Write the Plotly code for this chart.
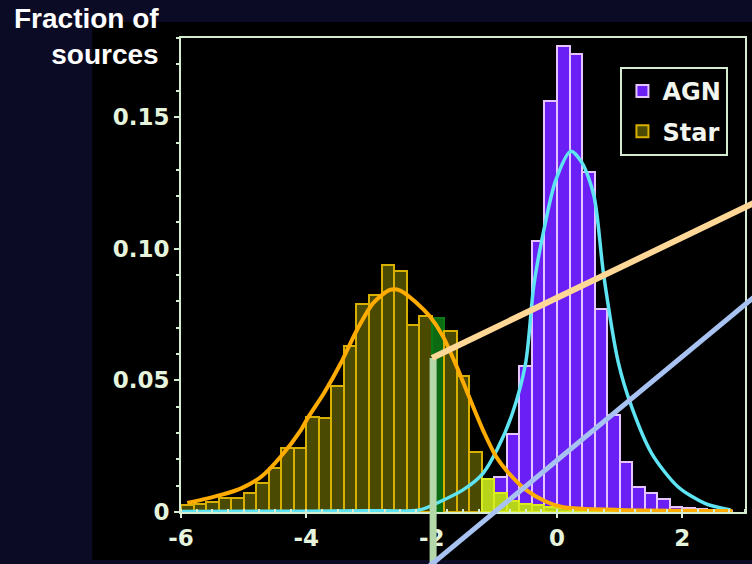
import plotly.graph_objects as go

# ---------------- data ----------------
star_centers = [-5.9, -5.7, -5.5, -5.3, -5.1, -4.9, -4.7, -4.5, -4.3, -4.1,
                -3.9, -3.7, -3.5, -3.3, -3.1, -2.9, -2.7, -2.5, -2.3, -2.1,
                -1.9, -1.7, -1.5, -1.3, -1.1, -0.9, -0.7, -0.5, -0.3, -0.1,
                0.1, 0.3, 0.5, 0.7, 0.9]
star_values = [0.0027, 0.0030, 0.0039, 0.0053, 0.0055, 0.0073, 0.0110, 0.0167, 0.0243, 0.0243,
               0.0360, 0.0357, 0.0480, 0.0630, 0.0790, 0.0825, 0.0937, 0.0917, 0.0710, 0.0743,
               0.0737, 0.0686, 0.0515, 0.0229, 0.0125, 0.0072, 0.0040, 0.0030, 0.0025, 0.0020,
               0.0015, 0.0010, 0.0008, 0.0006, 0.0005]

agn_centers = [-2.1, -1.9, -1.7, -1.5, -1.3, -1.1, -0.9, -0.7, -0.5, -0.3,
               -0.1, 0.1, 0.3, 0.5, 0.7, 0.9, 1.1, 1.3, 1.5, 1.7,
               1.9, 2.1, 2.3, 2.5, 2.7]
agn_values = [0.0010, 0.0015, 0.0020, 0.0030, 0.0050, 0.0085, 0.0133, 0.0297, 0.0555, 0.1028,
              0.1560, 0.1770, 0.1740, 0.1290, 0.0770, 0.0369, 0.0188, 0.0095, 0.0072, 0.0050,
              0.0020, 0.0015, 0.0010, 0.0008, 0.0005]

star_fit_x = [-5.9, -5.36, -5.04, -4.72, -4.41, -4.09, -3.98, -3.72, -3.45, -3.19,
              -2.93, -2.66, -2.5, -2.24, -2.03, -1.82, -1.6, -1.39, -1.16, -0.97,
              -0.76, -0.5, -0.18, 0.1, 1.0, 2.8]
star_fit_y = [0.0034, 0.0065, 0.0090, 0.0134, 0.0210, 0.0310, 0.0356, 0.0451, 0.0565, 0.0692,
              0.0794, 0.0844, 0.0841, 0.0794, 0.0743, 0.0667, 0.0552, 0.0430, 0.0300, 0.0210,
              0.0145, 0.0085, 0.0040, 0.0018, 0.0008, 0.0004]

agn_fit_x = [-6.0, -4.0, -3.0, -2.19, -1.87, -1.5, -1.18, -0.95, -0.71, -0.5,
             -0.37, -0.21, -0.02, 0.22, 0.4, 0.59, 0.745, 0.98, 1.19, 1.51,
             1.93, 2.36, 2.77]
agn_fit_y = [0.0002, 0.0003, 0.0005, 0.0008, 0.0039, 0.0084, 0.0147, 0.0240, 0.0376, 0.0566,
             0.0860, 0.1070, 0.1260, 0.1370, 0.1326, 0.1200, 0.0900, 0.0566, 0.0400, 0.0223,
             0.0096, 0.0033, 0.0008]

x_tick_vals = [-6, -4, -2, 0, 2]
x_tick_text = ["-6", "-4", "-2", "0", "2"]
y_tick_vals = [0, 0.05, 0.10, 0.15]
y_tick_text = ["0", "0.05", "0.10", "0.15"]
highlight_bin = -1.9

# ---------------- style ----------------
W, H = 752, 564
L, R, T, B = 181, 5, 38, 52
PW, PH = W - L - R, H - T - B
def px(x):  # pixel -> paper
    return (x - L) / PW
def py(y):
    return (H - B - y) / PH

MINT = "#d6ecd0"
TXT = "#e6f4de"

star_fill = []
star_line = []
for c in star_centers:
    if abs(c - highlight_bin) < 1e-6:
        star_fill.append("#0b6a12")
        star_line.append("#0b7a14")
    elif c > -1.2:
        star_fill.append("#b8d41a")
        star_line.append("#d8ec20")
    else:
        star_fill.append("#4a4a02")
        star_line.append("#d9b000")

fig = go.Figure()
fig.add_trace(go.Bar(
    x=agn_centers, y=agn_values, width=0.2, name="AGN", legendgroup="a",
    marker=dict(color="#6a20f4", line=dict(color="#e6c4ff", width=2)),
))
fig.add_trace(go.Bar(
    x=star_centers, y=star_values, width=0.2, name="Star", legendgroup="b",
    marker=dict(color=star_fill, line=dict(color=star_line, width=2)),
))
fig.add_trace(go.Scatter(
    x=agn_fit_x, y=agn_fit_y, mode="lines", showlegend=False,
    line=dict(color="#5ee4f2", width=3.5, shape="spline", smoothing=0.8),
))
fig.add_trace(go.Scatter(
    x=star_fit_x, y=star_fit_y, mode="lines", showlegend=False,
    line=dict(color="#ffab00", width=4, shape="spline", smoothing=0.8),
))

shapes = [
    # black panel behind chart
    dict(type="rect", xref="paper", yref="paper", layer="below",
         x0=px(92), x1=px(760), y0=py(560), y1=py(22),
         fillcolor="black", line=dict(width=0)),
    # pointer lines
    dict(type="line", xref="paper", yref="paper", layer="above",
         x0=px(434), x1=px(434), y0=py(358), y1=py(570),
         line=dict(color="#b4d8aa", width=7)),
    dict(type="line", xref="paper", yref="paper", layer="above",
         x0=px(433), x1=px(756), y0=py(358), y1=py(203),
         line=dict(color="#ffd898", width=6)),
    dict(type="line", xref="paper", yref="paper", layer="above",
         x0=px(428), x1=px(756), y0=py(568), y1=py(297),
         line=dict(color="#a8c2f2", width=5)),
]

fig.update_layout(
    width=W, height=H,
    margin=dict(l=L, r=R, t=T, b=B),
    paper_bgcolor="#0b0b26",
    plot_bgcolor="black",
    barmode="overlay", bargap=0,
    shapes=shapes,
    font=dict(family="DejaVu Sans", color=TXT),
    legend=dict(
        x=px(622), y=py(67), xanchor="left", yanchor="top",
        bgcolor="black", bordercolor=MINT, borderwidth=2,
        font=dict(family="DejaVu Sans", size=24, color="#f2f6ee", weight="bold"),
        tracegroupgap=6,
    ),
    annotations=[dict(
        text="Fraction of<br>sources", xref="paper", yref="paper",
        x=px(161), y=py(1), xanchor="right", yanchor="top", align="right",
        showarrow=False,
        font=dict(family="Liberation Sans", size=28, color="white", weight="bold"),
    )],
)

fig.update_xaxes(
    range=[-6, 3], showgrid=False, zeroline=False,
    showline=True, linecolor=MINT, linewidth=2, mirror=True,
    tickvals=x_tick_vals, ticktext=x_tick_text,
    ticks="outside", ticklen=4, tickwidth=2, tickcolor=MINT,
    tickfont=dict(family="DejaVu Sans", size=23, color=TXT, weight="bold"),
    minor=dict(dtick=0.25, ticks="inside", ticklen=3, tickwidth=2, tickcolor=MINT, showgrid=False),
)
fig.update_yaxes(
    range=[0, 0.18], showgrid=False, zeroline=False,
    showline=True, linecolor=MINT, linewidth=2, mirror=True,
    tickvals=y_tick_vals, ticktext=y_tick_text,
    ticks="outside", ticklen=5, tickwidth=2, tickcolor=MINT,
    tickfont=dict(family="DejaVu Sans", size=23, color=TXT, weight="bold"),
    minor=dict(dtick=0.01, ticks="outside", ticklen=3, tickwidth=2, tickcolor=MINT, showgrid=False),
)

fig.write_html("out.html")
